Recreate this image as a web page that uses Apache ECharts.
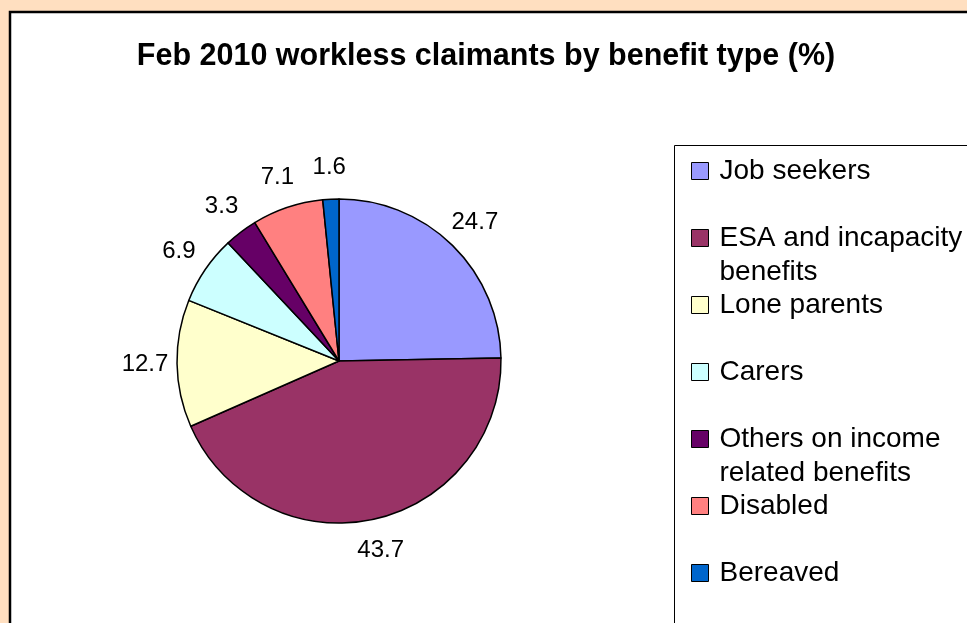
<!DOCTYPE html>
<html>
<head>
<meta charset="utf-8">
<style>
  html, body { margin: 0; padding: 0; background: #FFDFC0; }
  #chart { width: 967px; height: 623px; }
</style>
<script src="https://cdn.jsdelivr.net/npm/echarts@6/dist/echarts.min.js"></script>
</head>
<body>
<div id="chart"></div>
<script>
// Workless claimants, February 2010, share by benefit type (%)
const categories = [
  'Job seekers',
  'ESA and incapacity\nbenefits',
  'Lone parents',
  'Carers',
  'Others on income\nrelated benefits',
  'Disabled',
  'Bereaved'
];
const shares = [24.7, 43.7, 12.7, 6.9, 3.3, 7.1, 1.6];
const sliceColors = ['#9999FF', '#993366', '#FFFFCC', '#CCFFFF', '#660066', '#FF8080', '#0066CC'];

const FONT = '"Liberation Sans", Arial, sans-serif';
const pieData = categories.map((name, i) => ({ name: name, value: shares[i] }));

const chart = echarts.init(document.getElementById('chart'), null, { renderer: 'canvas' });

chart.setOption({
  backgroundColor: '#FFDFC0',
  animation: false,
  color: sliceColors,
  title: {
    text: 'Feb 2010 workless claimants by benefit type (%)',
    left: 481,
    top: 36,
    textAlign: 'center',
    textStyle: { fontFamily: FONT, fontSize: 30.5, fontWeight: 'bold', color: '#000' }
  },
  graphic: [
    // white chart panel
    {
      type: 'rect', z: -10, silent: true,
      shape: { x: 10, y: 12, width: 1100, height: 800 },
      style: { fill: '#FFFFFF', stroke: '#000000', lineWidth: 2.5 }
    },
    // legend frame
    {
      type: 'rect', z: -5, silent: true,
      shape: { x: 674.5, y: 145.5, width: 500, height: 600 },
      style: { fill: 'none', stroke: '#000000', lineWidth: 1 }
    }
  ],
  legend: {
    orient: 'vertical',
    left: 686,
    top: 115,
    height: 900,
    itemWidth: 17,
    itemHeight: 17,
    itemGap: -35,
    icon: 'rect',
    itemStyle: { borderColor: '#000', borderWidth: 1 },
    selectedMode: false,
    data: categories,
    formatter: function (name) {
      const parts = name.split('\n');
      return '\n' + parts[0] + '\n' + (parts[1] || '');
    },
    textStyle: {
      fontFamily: FONT, fontSize: 28, lineHeight: 34, color: '#000',
      padding: [0, 0, 0, 6]
    }
  },
  series: [
    {
      type: 'pie',
      center: [339, 361],
      radius: [0, 162],
      startAngle: 90,
      clockwise: true,
      avoidLabelOverlap: false,
      data: pieData,
      itemStyle: { borderColor: '#000', borderWidth: 1.5 },
      label: { show: false },
      labelLine: { show: false },
      emphasis: { disabled: true }
    },
    {
      // value labels placed on a ring just outside the pie
      type: 'pie',
      center: [339, 361],
      radius: [180, 202],
      startAngle: 90,
      clockwise: true,
      silent: true,
      avoidLabelOverlap: false,
      data: pieData,
      itemStyle: { color: 'rgba(0,0,0,0)', borderWidth: 0 },
      label: {
        show: true,
        position: 'inside',
        formatter: p => p.value.toFixed(1),
        fontFamily: FONT, fontSize: 24, color: '#000'
      },
      labelLine: { show: false },
      emphasis: { disabled: true }
    }
  ]
});
</script>
</body>
</html>
